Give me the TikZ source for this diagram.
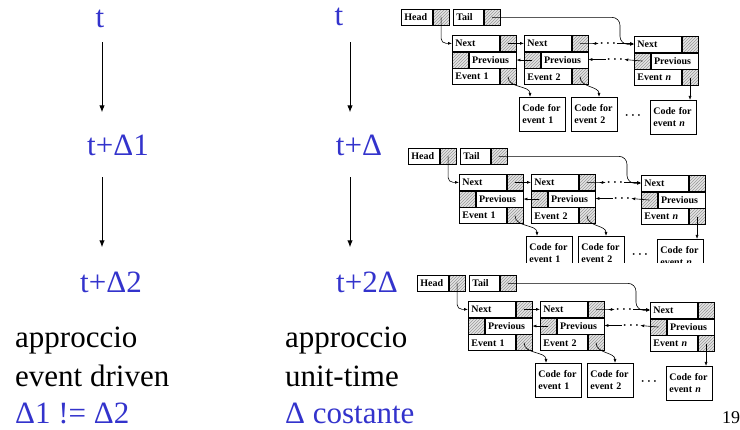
\documentclass[tikz,border=0pt]{standalone}
\usepackage{fontspec}
\setmainfont{Liberation Serif}
\usepackage{tikz}
\usetikzlibrary{arrows.meta, patterns}

\definecolor{slideblue}{RGB}{51,51,204}

\tikzset{
  big/.style={font=\fontsize{31}{36}\selectfont, inner sep=0pt},
  tlabel/.style={big, text=slideblue, anchor=base},
  flow/.style={-{Latex[length=7pt,width=5.5pt]}, line width=1pt},
  cell/.style={draw, line width=0.7pt, anchor=north west, inner xsep=3pt, inner ysep=0pt,
    text width=41pt, minimum height=16pt, align=left, font=\bfseries\fontsize{10}{12}\selectfont},
  ptr/.style={draw, line width=0.7pt, anchor=north west, inner sep=0pt,
    minimum width=16pt, minimum height=16pt, preaction={fill=gray!20},
    pattern=north east lines, pattern color=gray!80,
    path picture={\fill (path picture bounding box.center) circle (1.8pt);}},
  codebox/.style={draw, line width=0.7pt, anchor=north west, inner xsep=3pt, inner ysep=2pt,
    text width=40pt, minimum height=34pt, align=left, font=\bfseries\fontsize{10}{12}\selectfont},
  dots/.style={inner sep=1pt, font=\boldmath\fontsize{12}{12}\selectfont},
  link/.style={-{Latex[length=4pt,width=3pt]}, line width=0.6pt},
}

% one record of the doubly linked event list: #1 name, #2 position, #3 event text
\newcommand{\listcell}[3]{%
  \node[cell] (#1-next) at (#2) {Next};
  \node[ptr]  (#1-np)   at (#1-next.north east) {};
  \node[ptr]  (#1-pp)   at (#1-next.south west) {};
  \node[cell] (#1-prev) at (#1-pp.north east) {Previous};
  \node[cell] (#1-ev)   at (#1-pp.south west) {#3};
  \node[ptr]  (#1-ep)   at (#1-ev.north east) {};
}

% the whole event list, local origin at the top left of Head
\newcommand{\eventqueue}{%
  \node[cell, text width=25pt] (head) at (0,0) {Head};
  \node[ptr] (head-p) at (head.north east) {};
  \node[cell, text width=24pt] (tail) at (52,0) {Tail};
  \node[ptr] (tail-p) at (tail.north east) {};
  \listcell{e1}{51,26}{Event 1}
  \listcell{e2}{123,26}{Event 2}
  \listcell{en}{233,27}{Event \textit{n}}
  \node[codebox] (code1) at (118,88) {Code for\\event 1};
  \node[codebox] (code2) at (170,88) {Code for\\event 2};
  \node[codebox] (coden) at (249,91) {Code for\\event \textit{n}};
  \node[dots] (ndots) at (207,34.5) {$\cdots$};
  \node[dots] (pdots) at (214,50.5) {$\cdots$};
  \node[dots] (cdots) at (232,107) {$\cdots$};
  % pointers
  \draw[link, rounded corners=5pt] (head-p.center) |- (e1-next.west);
  \draw[link, rounded corners=8pt] (tail-p.center) -| ([xshift=-14pt]en-next.west) -- (en-next.west);
  \draw[link] (e1-np.center) -- (e2-next.west);
  \draw[link] (e2-np.center) -- (ndots.west);
  \draw[link] (ndots.east) -- (ndots.east -| en-next.west);
  \draw[link] (e2-pp.center) -- (e1-prev.east);
  \draw[link] (en-pp.center) -- (pdots.east);
  \draw[link] (pdots.west) -- (pdots.west -| e2-prev.east);
  \draw[link] (e1-ep.center) to[out=-90, in=90] ([xshift=11pt]code1.north west);
  \draw[link] (e2-ep.center) to[out=-90, in=90] ([xshift=28pt]code2.north west);
  \draw[link] (en-ep.center) -- (en-ep.center |- coden.north);
}

\begin{document}
\begin{tikzpicture}[x=1pt, y=-1pt]
  \useasboundingbox (0,0) rectangle (740,430);

  % event driven column
  \node[tlabel] (ta0) at (100,28) {t};
  \node[tlabel] (ta1) at (118,156) {t+Δ1};
  \node[tlabel] (ta2) at (111,293) {t+Δ2};
  \coordinate (ca) at (102,0);
  \draw[flow, shorten <=14pt, shorten >=23pt] (ca |- ta0.south) -- (ca |- ta1.north);
  \draw[flow, shorten <=21pt, shorten >=25pt] (ca |- ta1.south) -- (ca |- ta2.north);

  % unit-time column
  \node[tlabel] (tb0) at (339,26) {t};
  \node[tlabel] (tb1) at (359,156) {t+Δ};
  \node[tlabel] (tb2) at (367,293) {t+2Δ};
  \coordinate (cb) at (350,0);
  \draw[flow, shorten <=16pt, shorten >=23pt] (cb |- tb0.south) -- (cb |- tb1.north);
  \draw[flow, shorten <=21pt, shorten >=25pt] (cb |- tb1.south) -- (cb |- tb2.north);

  % captions
  \node[big, anchor=base west] (ed1) at (15,348) {approccio};
  \node[big, anchor=base west] (ed2) at (15,387) {event driven};
  \node[big, anchor=base west, text=slideblue] (ed3) at (15,424) {Δ1 != Δ2};
  \node[big, anchor=base west] (ut1) at (285,348) {approccio};
  \node[big, anchor=base west] (ut2) at (285,387) {unit-time};
  \node[big, anchor=base west, text=slideblue] (ut3) at (285,424) {Δ costante};

  % the three event lists
  \begin{scope}[shift={(401,9)}, name prefix=a-]
    \eventqueue
  \end{scope}
  \begin{scope}[shift={(408,148)}, name prefix=b-]
    \clip (-5,-5) rectangle (305,115);
    \eventqueue
  \end{scope}
  \begin{scope}[shift={(417,275)}, name prefix=c-]
    \eventqueue
  \end{scope}

  \node[font=\fontsize{18}{18}\selectfont, inner sep=0pt, anchor=base] (pg) at (731,424) {19};
\end{tikzpicture}
\end{document}
